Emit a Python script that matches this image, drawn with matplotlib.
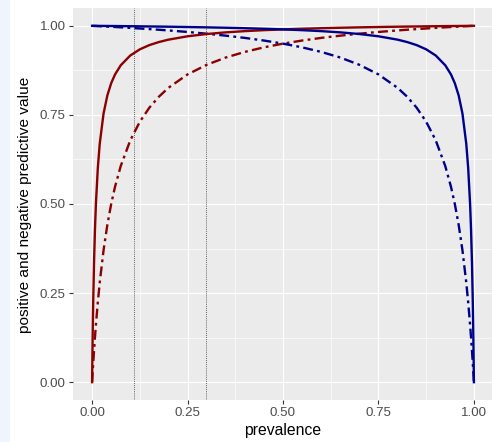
import matplotlib
matplotlib.use("Agg")
import matplotlib.pyplot as plt
from matplotlib.patches import Rectangle

# prevalence grid and predictive values
prevalence = [0, 0.001, 0.002, 0.003, 0.005, 0.0075, 0.01, 0.015, 0.02, 0.03,
              0.04, 0.05, 0.06, 0.075, 0.1, 0.125, 0.15, 0.175, 0.2, 0.25,
              0.3, 0.35, 0.4, 0.45, 0.5,
              0.55, 0.6, 0.65, 0.7, 0.75, 0.8, 0.825, 0.85, 0.875, 0.9,
              0.925, 0.94, 0.95, 0.96, 0.97, 0.98, 0.985, 0.99, 0.9925,
              0.995, 0.997, 0.998, 0.999, 1.0]

ppv_high = [0, 0.0902, 0.1656, 0.2295, 0.3322, 0.4280, 0.5, 0.6012, 0.6689, 0.7538,
            0.8049, 0.8390, 0.8634, 0.8892, 0.9167, 0.9340, 0.9459, 0.9545, 0.9612, 0.9706,
            0.9770, 0.9816, 0.9851, 0.9878, 0.99,
            0.9918, 0.9933, 0.9946, 0.9957, 0.9966, 0.9975, 0.9979, 0.9982, 0.9986, 0.9989,
            0.9992, 0.9994, 0.9995, 0.9996, 0.9997, 0.9998, 0.9998, 0.9999, 0.9999,
            1.0, 1.0, 1.0, 1.0, 1.0]

ppv_low = [0, 0.0187, 0.0367, 0.0541, 0.0872, 0.1256, 0.1610, 0.2244, 0.2794, 0.3701,
           0.4419, 0.5, 0.5481, 0.6064, 0.6786, 0.7308, 0.7703, 0.8012, 0.8261, 0.8636,
           0.8906, 0.9110, 0.9268, 0.9396, 0.95,
           0.9587, 0.9661, 0.9724, 0.9779, 0.9828, 0.9870, 0.9890, 0.9908, 0.9925, 0.9942,
           0.9958, 0.9967, 0.9972, 0.9978, 0.9984, 0.9989, 0.9992, 0.9995, 0.9996,
           0.9997, 0.9998, 0.9999, 0.9999, 1.0]

npv_high = [1.0, 1.0, 1.0, 1.0, 0.9999, 0.9999, 0.9999, 0.9998, 0.9998, 0.9997,
            0.9996, 0.9995, 0.9994, 0.9992, 0.9989, 0.9986, 0.9982, 0.9979, 0.9975, 0.9966,
            0.9957, 0.9946, 0.9933, 0.9918, 0.99,
            0.9878, 0.9851, 0.9816, 0.9770, 0.9706, 0.9612, 0.9545, 0.9459, 0.9340, 0.9167,
            0.8892, 0.8634, 0.8390, 0.8049, 0.7538, 0.6689, 0.6012, 0.5, 0.4280,
            0.3322, 0.2295, 0.1656, 0.0902, 0]

npv_low = [1.0, 0.9999, 0.9999, 0.9998, 0.9997, 0.9996, 0.9995, 0.9992, 0.9989, 0.9984,
           0.9978, 0.9972, 0.9967, 0.9958, 0.9942, 0.9925, 0.9908, 0.9890, 0.9870, 0.9828,
           0.9779, 0.9724, 0.9661, 0.9587, 0.95,
           0.9396, 0.9268, 0.9110, 0.8906, 0.8636, 0.8261, 0.8012, 0.7703, 0.7308, 0.6786,
           0.6064, 0.5481, 0.5, 0.4419, 0.3701, 0.2794, 0.2244, 0.1610, 0.1256,
           0.0872, 0.0541, 0.0367, 0.0187, 0]

vlines = [0.11, 0.298]
ticks = [0, 0.25, 0.5, 0.75, 1.0]
tick_labels = ["0.00", "0.25", "0.50", "0.75", "1.00"]

plt.rcParams['font.family'] = ['Liberation Sans', 'DejaVu Sans']

W, H = 492, 442
fig = plt.figure(figsize=(W / 100, H / 100), dpi=100)
fig.patch.set_facecolor('white')
fig.patches.append(Rectangle((0, 0), 10 / W, 1, transform=fig.transFigure,
                             facecolor='#eef5fc', edgecolor='none', zorder=0))

ax = fig.add_axes([73 / W, 1 - 400 / H, 420 / W, 392 / H])
ax.set_facecolor('#EBEBEB')
for s in ax.spines.values():
    s.set_visible(False)

ax.set_xlim(-0.05, 1.05)
ax.set_ylim(-0.05, 1.05)
ax.set_xticks(ticks)
ax.set_xticklabels(tick_labels)
ax.set_yticks(ticks)
ax.set_yticklabels(tick_labels)
ax.set_xticks([0.125, 0.375, 0.625, 0.875], minor=True)
ax.set_yticks([0.125, 0.375, 0.625, 0.875], minor=True)
ax.grid(which='major', color='white', linewidth=0.85)
ax.grid(which='minor', color='white', linewidth=0.45)
ax.set_axisbelow(True)
ax.tick_params(which='major', length=3, width=0.8, color='#333333',
               labelsize=9.6, labelcolor='#4D4D4D', pad=2.2)
ax.tick_params(which='minor', length=0)

dotdash = (0, (4.2, 1.8, 1.2, 1.8))
lw = 1.7
for xv in vlines:
    ax.axvline(xv, color='#333333', linewidth=0.6, linestyle=(0, (1, 1.5)), zorder=2)

ax.plot(prevalence, ppv_low, color='#8B0000', linewidth=lw, linestyle=dotdash, zorder=3)
ax.plot(prevalence, npv_low, color='#00008B', linewidth=lw, linestyle=dotdash, zorder=3)
ax.plot(prevalence, ppv_high, color='#8B0000', linewidth=lw, zorder=4)
ax.plot(prevalence, npv_high, color='#00008B', linewidth=lw, zorder=4)

fig.text(283 / W, 1 - 430 / H, "prevalence", ha='center', va='center',
         fontsize=11.3, color='black')
fig.text(25 / W, 1 - 205 / H, "positive and negative predictive value",
         ha='center', va='center', rotation=90, fontsize=11.1, color='black')

fig.savefig("out.png", dpi=100)
